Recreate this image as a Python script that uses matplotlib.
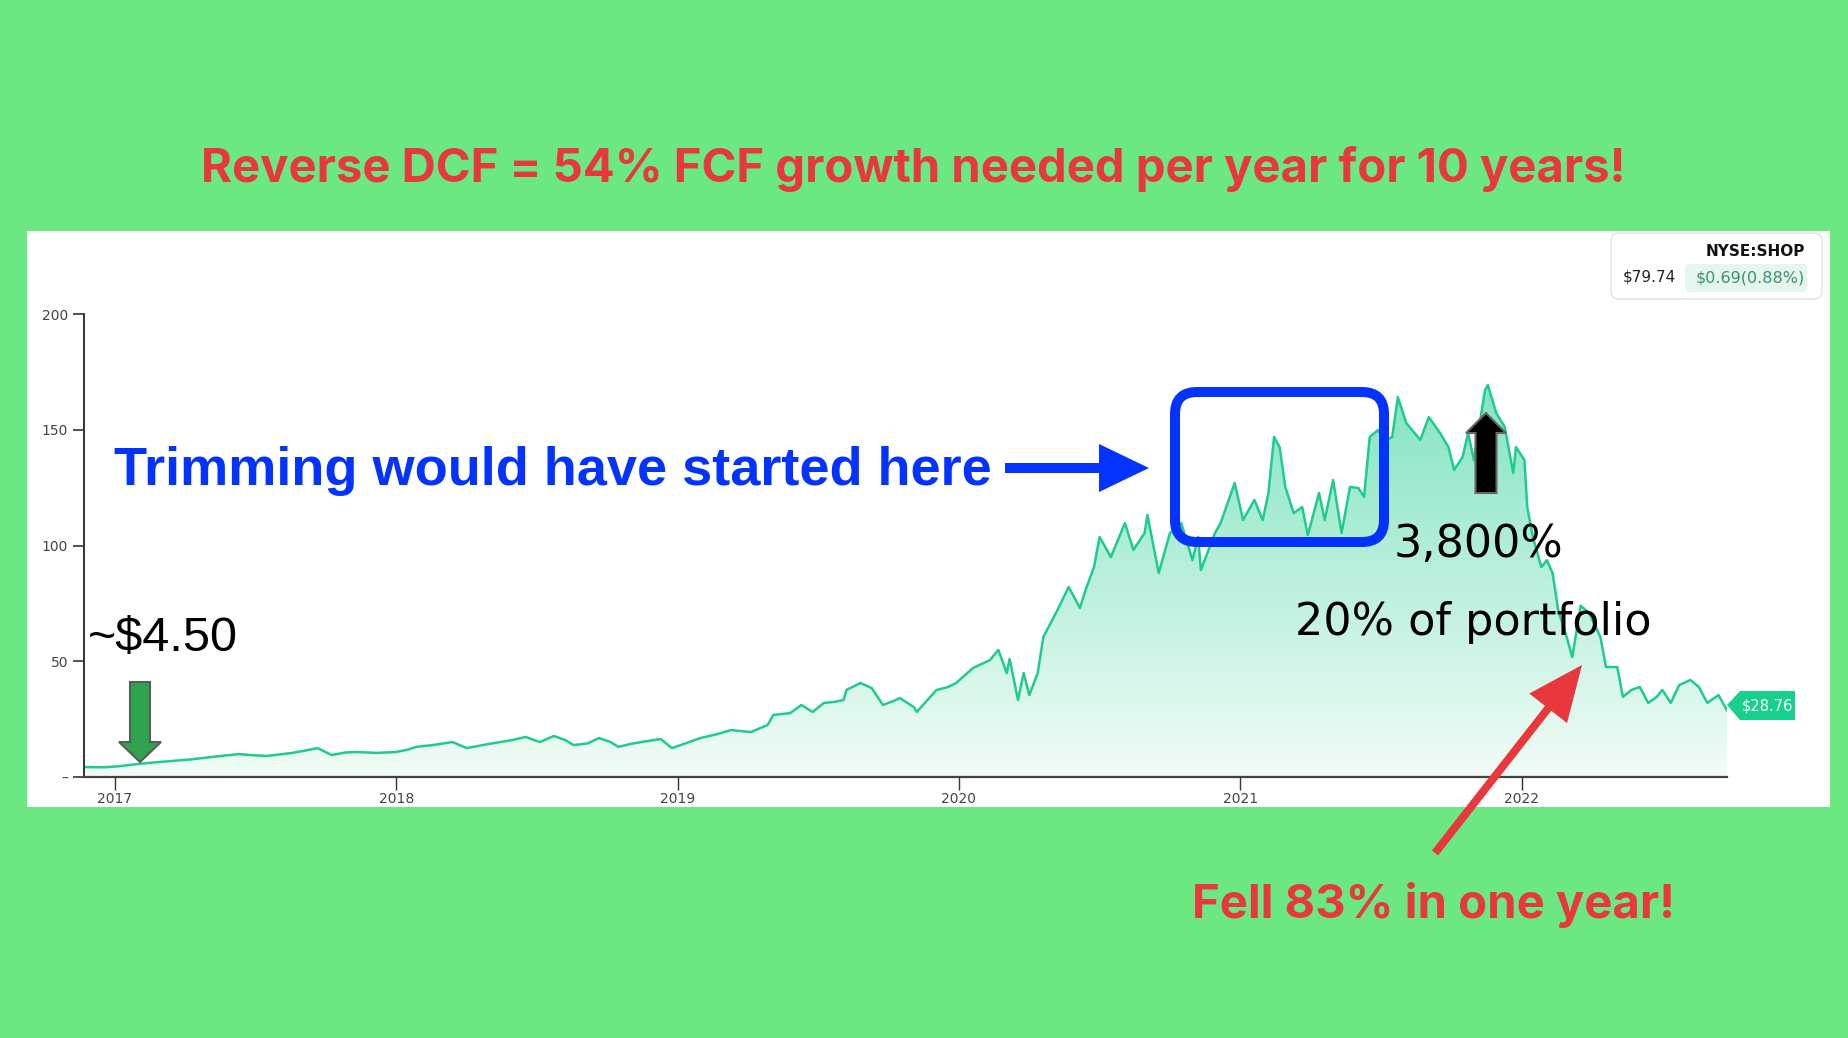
import numpy as np
import matplotlib
matplotlib.use("Agg")
import matplotlib.pyplot as plt
from matplotlib.patches import FancyBboxPatch, FancyArrow, Polygon
from matplotlib.colors import LinearSegmentedColormap

# SHOP closing price (split adjusted), x in decimal years
t_year = [2016.89, 2016.96, 2017.01, 2017.08, 2017.14, 2017.20, 2017.27, 2017.34, 2017.40, 2017.44,
          2017.49, 2017.54, 2017.59, 2017.63, 2017.68, 2017.72, 2017.77, 2017.82, 2017.86, 2017.93,
          2018.00, 2018.04, 2018.07, 2018.13, 2018.20, 2018.25, 2018.30, 2018.35, 2018.41, 2018.46,
          2018.51, 2018.56, 2018.60, 2018.63, 2018.68, 2018.72, 2018.76, 2018.79, 2018.83, 2018.87,
          2018.94, 2018.98, 2019.03, 2019.08, 2019.14, 2019.19, 2019.26, 2019.32, 2019.34, 2019.40,
          2019.44, 2019.48, 2019.52, 2019.56, 2019.59, 2019.60, 2019.65, 2019.69, 2019.73, 2019.77,
          2019.79, 2019.84, 2019.85, 2019.89, 2019.92, 2019.96, 2019.99, 2020.05, 2020.11, 2020.14,
          2020.17, 2020.18, 2020.21, 2020.23, 2020.25, 2020.28, 2020.30, 2020.35, 2020.39, 2020.43,
          2020.45, 2020.48, 2020.50, 2020.54, 2020.59, 2020.62, 2020.66, 2020.67, 2020.71, 2020.75,
          2020.79, 2020.83, 2020.85, 2020.86, 2020.91, 2020.93, 2020.98, 2021.01, 2021.05, 2021.08,
          2021.10, 2021.12, 2021.14, 2021.16, 2021.19, 2021.22, 2021.24, 2021.28, 2021.30, 2021.33,
          2021.36, 2021.39, 2021.42, 2021.44, 2021.46, 2021.49, 2021.51, 2021.54, 2021.56, 2021.59,
          2021.64, 2021.67, 2021.71, 2021.74, 2021.76, 2021.79, 2021.81, 2021.83, 2021.87, 2021.88,
          2021.91, 2021.94, 2021.97, 2021.98, 2022.01, 2022.02, 2022.04, 2022.07, 2022.09, 2022.11,
          2022.13, 2022.16, 2022.18, 2022.21, 2022.24, 2022.28, 2022.30, 2022.34, 2022.36, 2022.39,
          2022.42, 2022.45, 2022.48, 2022.50, 2022.53, 2022.56, 2022.60, 2022.63, 2022.66, 2022.70,
          2022.73]
price = [4.3, 4.2, 4.6, 5.6, 6.3, 6.9, 7.6, 8.6, 9.4, 9.9,
         9.4, 9.1, 9.8, 10.4, 11.5, 12.5, 9.5, 10.6, 10.8, 10.4,
         10.8, 11.8, 13.0, 13.8, 15.1, 12.5, 13.6, 14.7, 15.9, 17.3,
         15.1, 17.7, 16.0, 13.8, 14.5, 16.8, 15.2, 13.0, 14.2, 15.1,
         16.4, 12.5, 14.6, 16.8, 18.5, 20.3, 19.4, 22.5, 26.8, 27.6,
         31.1, 28.1, 32.0, 32.5, 33.3, 37.6, 40.6, 38.4, 31.1, 33.0,
         34.1, 30.2, 28.1, 33.5, 37.6, 38.8, 40.6, 47.1, 50.5, 54.9,
         44.9, 51.0, 33.3, 44.9, 35.4, 44.9, 60.5, 72.1, 82.1, 73.0,
         80.8, 90.7, 103.7, 95.0, 109.7, 98.1, 105.4, 113.2, 88.1, 105.4,
         109.7, 93.7, 103.7, 89.4, 105.4, 109.7, 127.0, 111.0, 119.7, 111.0,
         122.7, 146.9, 142.5, 125.3, 114.0, 116.6, 104.5, 122.7, 111.0, 128.3,
         105.4, 125.3, 124.8, 121.0, 146.9, 149.9, 145.0, 146.9, 164.1, 152.9,
         145.6, 155.5, 148.6, 142.5, 132.6, 138.2, 148.6, 136.9, 167.2, 169.3,
         157.2, 151.2, 131.3, 142.5, 136.9, 116.6, 103.7, 90.7, 93.7, 88.1,
         72.1, 60.5, 51.8, 74.0, 70.8, 60.5, 47.5, 47.5, 34.6, 37.6,
         38.9, 32.0, 34.6, 37.6, 32.0, 39.7, 41.9, 38.9, 32.0, 35.4,
         28.76]

year_ticks = [2017, 2018, 2019, 2020, 2021, 2022]
price_ticks = [0, 50, 100, 150, 200]
price_tick_labels = ["\u2013", "50", "100", "150", "200"]
last_price = "$28.76"

W, H = 1848, 1038
BG = "#6BE882"
LINE = "#1ECC8C"
RED = "#E8383D"
BLUE = "#0433FF"

fig = plt.figure(figsize=(W / 100, H / 100), dpi=100)
fig.patch.set_facecolor(BG)


def frac(x0, y0, x1, y1):
    # pixel box (top-left origin) -> figure fraction rect
    return [x0 / W, 1 - y1 / H, (x1 - x0) / W, (y1 - y0) / H]


# white chart card
card = fig.add_axes(frac(27, 231, 1830, 807))
card.set_facecolor("white")
card.set_xticks([])
card.set_yticks([])
for s in card.spines.values():
    s.set_visible(False)

# price chart
ax = fig.add_axes(frac(84, 314, 1727, 777))
ax.patch.set_alpha(0)
ax.set_xlim(t_year[0], t_year[-1])
ax.set_ylim(0, 200)

grad = np.linspace(0, 1, 256).reshape(-1, 1)
cmap = LinearSegmentedColormap.from_list("fill", ["#F2FCF7", "#6FE0B9"])
im = ax.imshow(grad, extent=[t_year[0], t_year[-1], 0, 200], origin="lower",
               aspect="auto", cmap=cmap, zorder=1)
verts = [(t_year[0], 0)] + list(zip(t_year, price)) + [(t_year[-1], 0)]
clip = Polygon(verts, closed=True, facecolor="none", edgecolor="none", transform=ax.transData)
ax.add_patch(clip)
im.set_clip_path(clip)
ax.plot(t_year, price, color=LINE, lw=1.8, zorder=2)

ax.set_yticks(price_ticks)
ax.set_yticklabels(price_tick_labels)
ax.set_xticks(year_ticks)
ax.set_xticklabels([str(y) for y in year_ticks])
ax.tick_params(axis="y", length=8, width=1.2, color="#333333", pad=3.5,
               labelsize=10, labelcolor="#444444")
ax.tick_params(axis="x", length=9, width=1.0, color="#333333", pad=2,
               labelsize=10, labelcolor="#444444")
for side in ["top", "right"]:
    ax.spines[side].set_visible(False)
ax.spines["left"].set_color("#333333")
ax.spines["left"].set_linewidth(1.4)
ax.spines["bottom"].set_color("#444444")
ax.spines["bottom"].set_linewidth(1.6)

# overlay in pixel coordinates for the annotations
ov = fig.add_axes([0, 0, 1, 1])
ov.set_xlim(0, W)
ov.set_ylim(H, 0)
ov.axis("off")
ov.set_zorder(5)

ov.text(913, 169, "Reverse DCF = 54% FCF growth needed per year for 10 years!",
        ha="center", va="center", color=RED, fontsize=34, fontweight="bold", family="Inter")

ov.text(114, 471, "Trimming would have started here", ha="left", va="center",
        color=BLUE, fontsize=39, fontweight="bold", family="Liberation Sans")
ov.add_patch(FancyArrow(1005, 468, 144, 0, width=10, head_width=48, head_length=50,
                        length_includes_head=True, color=BLUE, lw=0))
ov.add_patch(FancyBboxPatch((1175, 392), 209, 150, boxstyle="round,pad=0,rounding_size=22",
                            facecolor="none", edgecolor=BLUE, lw=7.2))

ov.text(88, 638, "~$4.50", ha="left", va="center", color="black", fontsize=35,
        family="Liberation Sans")
ov.add_patch(FancyArrow(140, 682, 0, 80, width=20, head_width=42, head_length=20,
                        length_includes_head=True, facecolor="#2EA44F", edgecolor="#5A5A5A", lw=1.5))

ov.add_patch(FancyArrow(1486, 493, 0, -80, width=21, head_width=40, head_length=20,
                        length_includes_head=True, facecolor="black", edgecolor="#666666", lw=1.5))
ov.text(1394, 545, "3,800%", ha="left", va="center", color="black", fontsize=32,
        family="DejaVu Sans")
ov.text(1473, 622, "20% of portfolio", ha="center", va="center", color="black", fontsize=32,
        family="DejaVu Sans")

ov.add_patch(FancyArrow(1435, 853, 147, -188, width=8, head_width=48, head_length=55,
                        length_includes_head=True, color=RED, lw=0))
ov.text(1434, 905, "Fell 83% in one year!", ha="center", va="center", color=RED,
        fontsize=34, fontweight="bold", family="Inter")

# last price tag
ov.add_patch(Polygon([(1727, 705), (1740, 691), (1795, 691), (1795, 720), (1740, 720)],
                     closed=True, facecolor="#16D08B", edgecolor="none"))
ov.text(1767, 706, last_price, ha="center", va="center", color="white", fontsize=10.5)

# ticker box
ov.add_patch(FancyBboxPatch((1611, 233), 211, 66, boxstyle="round,pad=0,rounding_size=8",
                            facecolor="white", edgecolor="#E2E2E2", lw=1.0))
ov.add_patch(FancyBboxPatch((1685, 264), 122, 28, boxstyle="round,pad=0,rounding_size=4",
                            facecolor="#E4F6ED", edgecolor="none"))
ov.text(1805, 251, "NYSE:SHOP", ha="right", va="center", color="#111111", fontsize=11,
        fontweight="semibold")
ov.text(1623, 277, "$79.74", ha="left", va="center", color="#222222", fontsize=11)
ov.text(1805, 278, "$0.69(0.88%)", ha="right", va="center", color="#3A9468", fontsize=11.5)

fig.savefig("out.png", dpi=100, facecolor=BG)
